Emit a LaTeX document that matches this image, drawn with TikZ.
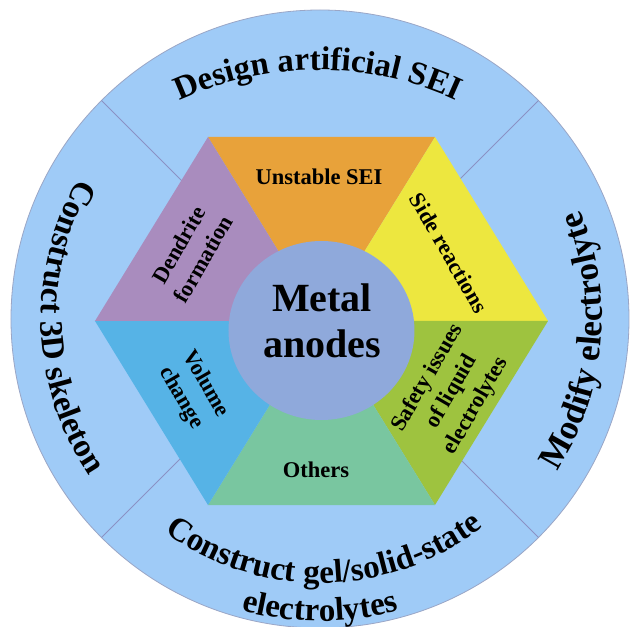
\documentclass[tikz,border=0pt]{standalone}
\usepackage{fontspec}
\setmainfont{Liberation Serif}
\usetikzlibrary{decorations.text}
\definecolor{ringblue}{HTML}{9FCBF7}
\definecolor{rimgray}{HTML}{9AA6C6}
\definecolor{divgray}{HTML}{8A92C4}
\definecolor{segorange}{HTML}{E8A23A}
\definecolor{segyellow}{HTML}{EDE73F}
\definecolor{seggreen}{HTML}{9EC33F}
\definecolor{segteal}{HTML}{79C6A0}
\definecolor{segblue}{HTML}{56B3E6}
\definecolor{segpurple}{HTML}{A98CBE}
\definecolor{hubblue}{HTML}{8FA9DB}
\newcommand\outerfnt{\fontsize{33}{33}\selectfont\bfseries}
\newcommand\outerfntb{\fontsize{35}{35}\selectfont\bfseries}
\begin{document}
\begin{tikzpicture}[x=1pt,y=1pt,
  innertxt/.style={font=\fontsize{22.5}{28}\selectfont\bfseries, align=center, inner sep=0pt, text=black},
  hubtxt/.style={font=\fontsize{40}{46}\selectfont\bfseries, align=center, inner sep=0pt, text=black},
  divider/.style={draw=divgray, line width=0.9},
  arctext/.style={decorate, decoration={text along path, text align=center, text={#1}}}
  ]
\useasboundingbox (-320,-308) rectangle (310,319);
\fill[white] (-320,-308) rectangle (310,319);
% outer ring
\draw[fill=ringblue, draw=rimgray, line width=0.8] (0,0) circle (309);
\foreach \a in {45,135,225,315} \draw[divider] (0,0) -- (\a:309);
% hexagon
\coordinate (H) at (1.5,-2);
\coordinate (TL) at (-112,182);
\coordinate (TR) at (115,182);
\coordinate (R) at (228,-2);
\coordinate (BR) at (115,-186);
\coordinate (BL) at (-112,-186);
\coordinate (L) at (-225,-2);
\fill[segorange] (H) -- (TL) -- (TR) -- cycle;
\fill[segyellow] (H) -- (TR) -- (R) -- cycle;
\fill[seggreen] (H) -- (R) -- (BR) -- cycle;
\fill[segteal] (H) -- (BR) -- (BL) -- cycle;
\fill[segblue] (H) -- (BL) -- (L) -- cycle;
\fill[segpurple] (H) -- (L) -- (TL) -- cycle;
% hub
\fill[hubblue] (1.5,-11.5) ellipse [x radius=93, y radius=89.5];
\node[hubtxt] (hub) at (2,-2) {Metal\\anodes};
% inner labels
\node[innertxt] (unstable) at (-1,142) {Unstable SEI};
\node[innertxt, rotate=-60] (side) at (129,66) {Side reactions};
\node[innertxt, rotate=60] (safety) at (132,-73) {Safety issues\\of liquid\\electrolytes};
\node[innertxt] (others) at (-4,-151) {Others};
\node[innertxt, rotate=-60] (volume) at (-127,-72) {Volume\\change};
\node[innertxt, rotate=60] (dendrite) at (-129,67) {Dendrite\\formation};
% outer arc labels
\path[arctext={|\outerfnt|Design artificial SEI}]
  ([shift={(150:330)}]-2,-81) arc[start angle=150, end angle=30, radius=330];
\path[arctext={|\outerfnt|Construct 3D skeleton}]
  (112:279) arc[start angle=112, end angle=252, radius=279];
\path[arctext={|\outerfntb|Modify electrolyte}]
  (-75:282) arc[start angle=-75, end angle=65, radius=282];
\path[arctext={|\outerfnt|Construct gel/solid-state}]
  (201:264) arc[start angle=201, end angle=341, radius=264];
\path[arctext={|\outerfnt|electrolytes}]
  (235:302) arc[start angle=235, end angle=305, radius=302];
\end{tikzpicture}
\end{document}
